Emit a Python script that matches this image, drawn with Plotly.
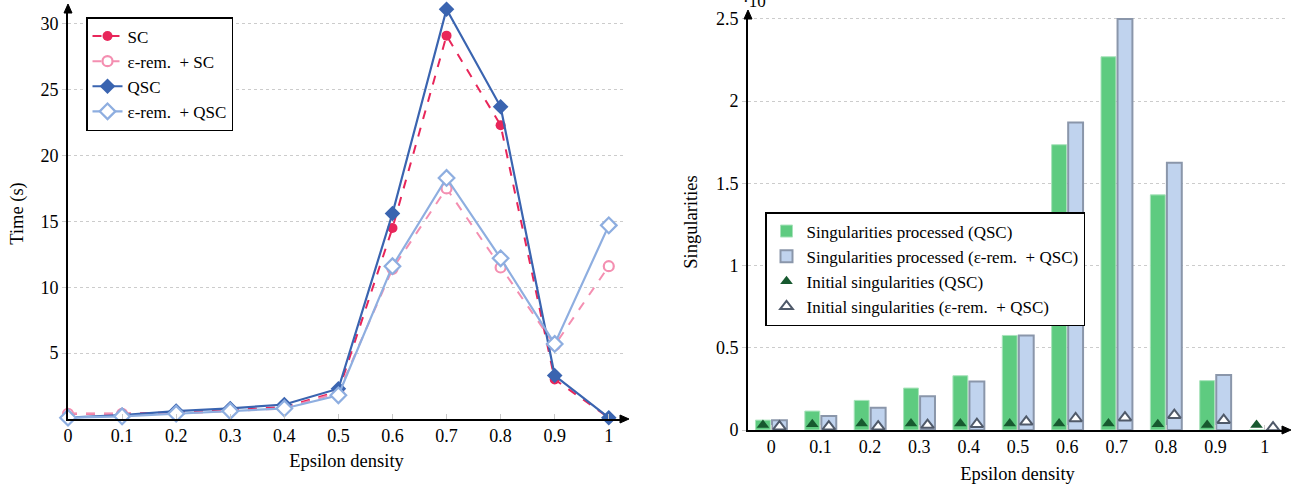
import plotly.graph_objects as go

# ---------------- data ----------------
eps = [0, 0.1, 0.2, 0.3, 0.4, 0.5, 0.6, 0.7, 0.8, 0.9, 1.0]
eps_labels = ["0", "0.1", "0.2", "0.3", "0.4", "0.5", "0.6", "0.7", "0.8", "0.9", "1"]

time_sc = [0.4, 0.4, 0.5, 0.7, 0.9, 2.1, 14.5, 29.1, 22.3, 3.0, 0.1]
time_eps_sc = [0.4, 0.4, 0.4, 0.6, 0.8, 2.0, 11.4, 17.5, 11.5, 5.6, 11.6]
time_qsc = [0.1, 0.3, 0.6, 0.8, 1.1, 2.3, 15.6, 31.1, 23.7, 3.3, 0.1]
time_eps_qsc = [0.1, 0.2, 0.4, 0.6, 0.8, 1.8, 11.6, 18.3, 12.2, 5.7, 14.7]

sing_qsc = [0.06, 0.115, 0.18, 0.255, 0.33, 0.575, 1.735, 2.27, 1.43, 0.30, 0.0]
sing_eps_qsc = [0.06, 0.085, 0.135, 0.205, 0.295, 0.575, 1.87, 2.5, 1.625, 0.335, 0.0]
init_qsc = [0.03, 0.035, 0.04, 0.04, 0.04, 0.04, 0.04, 0.04, 0.035, 0.03, 0.03]
init_eps_qsc = [0.02, 0.02, 0.02, 0.03, 0.035, 0.05, 0.07, 0.075, 0.09, 0.06, 0.015]

time_ticks = [5, 10, 15, 20, 25, 30]
sing_ticks = [0, 0.5, 1, 1.5, 2, 2.5]
sing_tick_labels = ["0", "0.5", "1", "1.5", "2", "2.5"]

FONT = "Liberation Serif, Times New Roman, serif"

fig = go.Figure()

# ---------------- left chart ----------------
common_left = dict(cliponaxis=False, xaxis="x", yaxis="y", legend="legend", offsetgroup="L")
fig.add_trace(go.Scatter(x=eps, y=time_sc, name="SC", mode="lines+markers",
                         line=dict(color="#e8265a", width=2, dash="dash"),
                         marker=dict(symbol="circle", size=10, color="#e8265a"),
                         **common_left))
fig.add_trace(go.Scatter(x=eps, y=time_eps_sc, name="ε-rem.  + SC", mode="lines+markers",
                         line=dict(color="#f48fb1", width=2, dash="dash"),
                         marker=dict(symbol="circle", size=10, color="white",
                                     line=dict(color="#f48fb1", width=2.2)),
                         **common_left))
fig.add_trace(go.Scatter(x=eps, y=time_qsc, name="QSC", mode="lines+markers",
                         line=dict(color="#3a64b0", width=2.2),
                         marker=dict(symbol="diamond", size=12, color="#3a64b0"),
                         **common_left))
fig.add_trace(go.Scatter(x=eps, y=time_eps_qsc, name="ε-rem.  + QSC", mode="lines+markers",
                         line=dict(color="#8eaee0", width=2.2),
                         marker=dict(symbol="diamond", size=12, color="white",
                                     line=dict(color="#8eaee0", width=2.2)),
                         **common_left))

# ---------------- right chart ----------------
fig.add_trace(go.Bar(x=eps, y=sing_qsc, name="Singularities processed (QSC)",
                     marker=dict(color="#5ecb80", line=dict(color="#a8e3bb", width=1)),
                     offsetgroup="a", xaxis="x2", yaxis="y2", legend="legend2"))
fig.add_trace(go.Bar(x=eps, y=sing_eps_qsc, name="Singularities processed (ε-rem.  + QSC)",
                     marker=dict(color="#c0d3ee", line=dict(color="#8a96aa", width=2)),
                     offsetgroup="b", xaxis="x2", yaxis="y2", legend="legend2"))
fig.add_trace(go.Scatter(x=eps, y=init_qsc, name="Initial singularities (QSC)", mode="markers",
                         marker=dict(symbol="triangle-up", size=11, color="#17592f"),
                         offsetgroup="a", cliponaxis=False,
                         xaxis="x2", yaxis="y2", legend="legend2"))
fig.add_trace(go.Scatter(x=eps, y=init_eps_qsc, name="Initial singularities (ε-rem.  + QSC)",
                         mode="markers",
                         marker=dict(symbol="triangle-up", size=11, color="white",
                                     line=dict(color="#505a6a", width=2)),
                         offsetgroup="b", cliponaxis=False,
                         xaxis="x2", yaxis="y2", legend="legend2"))

W, H = 1293, 485
L_x0, L_x1 = 68 / W, 625 / W
R_x0, R_x1 = 748 / W, 1287 / W
L_y0, L_y1 = 1 - 419 / H, 1 - 8 / H
R_y0, R_y1 = 1 - 430 / H, 1 - 14 / H

TICK = 18
TITLE = 18.5
LEG = 17
axis_common = dict(showline=True, linecolor="black", linewidth=1.6, zeroline=False,
                   automargin=False,
                   tickfont=dict(family=FONT, size=TICK, color="black"))

fig.update_layout(
    width=W, height=H,
    margin=dict(l=0, r=0, t=0, b=0),
    plot_bgcolor="white", paper_bgcolor="white",
    font=dict(family=FONT, size=TICK, color="black"),
    barmode="group", bargap=0.33, bargroupgap=0.1,
    scattermode="group", scattergap=0.33,
    xaxis=dict(domain=[L_x0, L_x1], range=[0, 1.03], tickvals=eps, ticktext=eps_labels,
               showgrid=False, ticks="inside", ticklen=5, tickcolor="#c8c8c8",
               anchor="y",
               title=dict(text="Epsilon density", font=dict(family=FONT, size=TITLE), standoff=9),
               **axis_common),
    yaxis=dict(domain=[L_y0, L_y1], range=[0, 31.2], tickvals=time_ticks,
               showgrid=True, gridcolor="#cccccc", griddash="dot", gridwidth=1,
               ticks="outside", ticklen=4, tickcolor="#cccccc", anchor="x",
               title=dict(text="Time (s)", font=dict(family=FONT, size=TITLE), standoff=12),
               **axis_common),
    xaxis2=dict(domain=[R_x0, R_x1], range=[-0.047, 1.045], tickvals=eps, ticktext=eps_labels,
                showgrid=False, ticks="inside", ticklen=5, tickcolor="#c8c8c8",
                anchor="y2",
                title=dict(text="Epsilon density", font=dict(family=FONT, size=TITLE), standoff=11),
                **axis_common),
    yaxis2=dict(domain=[R_y0, R_y1], range=[0, 2.53], tickvals=sing_ticks,
                ticktext=sing_tick_labels,
                showgrid=True, gridcolor="#cccccc", griddash="dot", gridwidth=1,
                ticks="outside", ticklen=4, tickcolor="#cccccc", anchor="x2",
                title=dict(text="Singularities", font=dict(family=FONT, size=TITLE), standoff=14),
                **axis_common),
    legend=dict(x=86 / W, y=1 - 17 / H, xanchor="left", yanchor="top",
                bgcolor="white", bordercolor="black", borderwidth=1.5,
                font=dict(family=FONT, size=LEG), tracegroupgap=0,
                itemwidth=30),
    legend2=dict(x=765 / W, y=1 - 212 / H, xanchor="left", yanchor="top",
                 bgcolor="white", bordercolor="black", borderwidth=1.5,
                 font=dict(family=FONT, size=LEG), tracegroupgap=0,
                 itemwidth=30),
    showlegend=True,
)


# axis arrows (decoration, drawn as small filled triangles in paper coordinates)
def up_arrow(px, py):
    return (f"M {(px - 4) / W} {1 - (py + 9) / H} L {px / W} {1 - py / H} "
            f"L {(px + 4) / W} {1 - (py + 9) / H} Z")


def right_arrow(px, py):
    return (f"M {(px - 9) / W} {1 - (py - 4) / H} L {px / W} {1 - py / H} "
            f"L {(px - 9) / W} {1 - (py + 4) / H} Z")


for path in [up_arrow(68, 4), right_arrow(629, 419), up_arrow(748, 10), right_arrow(1291, 430)]:
    fig.add_shape(type="path", xref="paper", yref="paper", path=path,
                  fillcolor="black", line=dict(color="black", width=1))

# scale factor label (partly cropped at the top, as in the reference)
fig.add_annotation(xref="paper", yref="paper", x=757 / W, y=1.0, xanchor="center", yanchor="middle",
                   text="·10<sup>4</sup>", showarrow=False,
                   font=dict(family=FONT, size=17, color="black"))

fig.write_html("out.html")
